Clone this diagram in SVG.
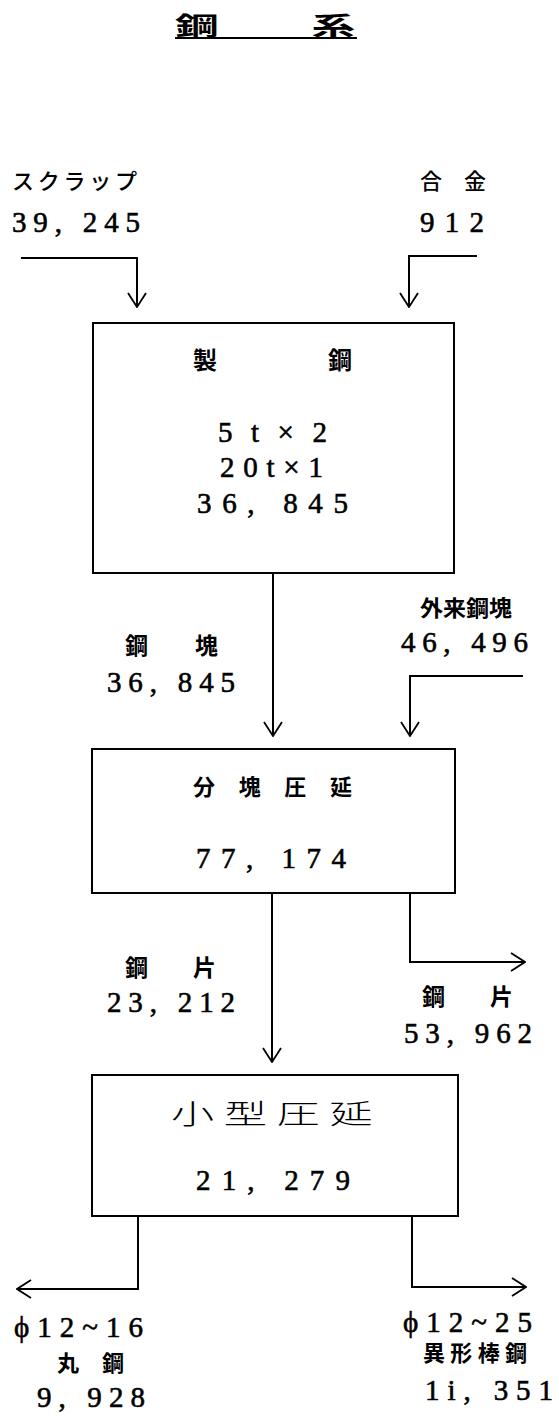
<svg xmlns="http://www.w3.org/2000/svg" width="559" height="1416" viewBox="0 0 559 1416">
<style>
.bg{fill:#fff}
.box{fill:none;stroke:#000;stroke-width:2}
.ln{fill:none;stroke:#000;stroke-width:2}
.num{font-family:"Liberation Serif","Noto Sans CJK JP",serif;font-size:29px;fill:#000;stroke:#000;stroke-width:0.6}
.jp{font-family:"Noto Sans CJK JP",sans-serif;font-weight:700;font-size:22px;fill:#000}
.jpm{font-family:"Noto Sans CJK JP",sans-serif;font-weight:500;font-size:22px;fill:#000}
.jpl{font-family:"Noto Sans CJK JP",sans-serif;font-weight:300;font-size:27px;fill:#000}
</style>
<defs>
<marker id="arr" viewBox="-1 -1 16 20" refX="14" refY="9" markerWidth="16" markerHeight="20" markerUnits="userSpaceOnUse" orient="auto">
<path d="M0,0 L14,9 L0,18" fill="none" stroke="#000" stroke-width="1.8"/>
</marker>
</defs>
<rect class="bg" x="0" y="0" width="559" height="1416"/>

<g id="title">
<text class="jp" transform="translate(175,35) scale(1.75,1)" x="0 78" y="0" style="font-size:25px">鋼系</text>
<line class="ln" x1="175" y1="38" x2="357" y2="38"/>
</g>

<g id="scrap">
<text class="jpm" x="12" y="189" textLength="125" lengthAdjust="spacing">スクラップ</text>
<text class="num" x="12" y="232" textLength="128" lengthAdjust="spacing">39, 245</text>
</g>

<g id="alloy">
<text class="jpm" x="420 464" y="189">合金</text>
<text class="num" x="420" y="232" textLength="64" lengthAdjust="spacing">912</text>
</g>

<g id="steelmaking">
<rect class="box" x="93" y="323" width="361" height="250"/>
<text class="jp" x="193 328" y="369" style="font-size:24px">製鋼</text>
<text class="num" x="218" y="442" textLength="109" lengthAdjust="spacing">5 t × 2</text>
<text class="num" x="220" y="477" textLength="103" lengthAdjust="spacing">20t×1</text>
<text class="num" x="197" y="513" textLength="151" lengthAdjust="spacing">36, 845</text>
</g>

<g id="ingot">
<text class="jp" x="125 195" y="654" style="font-size:23px">鋼塊</text>
<text class="num" x="107" y="692" textLength="128" lengthAdjust="spacing">36, 845</text>
</g>

<g id="purchased-ingot">
<text class="jp" x="420" y="616" textLength="92" lengthAdjust="spacingAndGlyphs">外来鋼塊</text>
<text class="num" x="401" y="652" textLength="127" lengthAdjust="spacing">46, 496</text>
</g>

<g id="blooming">
<rect class="box" x="92" y="749" width="363" height="144"/>
<text class="jp" x="193" y="795" textLength="159" lengthAdjust="spacing">分塊圧延</text>
<text class="num" x="196" y="868" textLength="150" lengthAdjust="spacing">77, 174</text>
</g>

<g id="billet">
<text class="jp" x="125 193" y="976" style="font-size:23px">鋼片</text>
<text class="num" x="107" y="1012" textLength="128" lengthAdjust="spacing">23, 212</text>
</g>

<g id="billet-out">
<text class="jp" x="422 490" y="1005" style="font-size:23px">鋼片</text>
<text class="num" x="404" y="1043" textLength="128" lengthAdjust="spacing">53, 962</text>
</g>

<g id="small-rolling">
<rect class="box" x="92" y="1075" width="366" height="141"/>
<text class="jpl" transform="translate(171,1124) scale(1.6,1)" x="0 33 66 99" y="0">小型圧延</text>
<text class="num" x="196" y="1190" textLength="154" lengthAdjust="spacing">21, 279</text>
</g>

<g id="round-bar">
<text class="num" x="14" y="1337" textLength="129" lengthAdjust="spacing">ϕ12~16</text>
<text class="jp" x="57 102" y="1371">丸鋼</text>
<text class="num" x="37" y="1407" textLength="108" lengthAdjust="spacing">9, 928</text>
</g>

<g id="deformed-bar">
<text class="num" x="403" y="1332" textLength="129" lengthAdjust="spacing">ϕ12~25</text>
<text class="jp" x="423" y="1361" textLength="104" lengthAdjust="spacing">異形棒鋼</text>
<text class="num" x="425" y="1400" textLength="128" lengthAdjust="spacing">1i, 351</text>
</g>

<g id="connectors">
<path class="ln" d="M21,258 H137 V307" marker-end="url(#arr)"/>
<path class="ln" d="M477,256 H409 V307" marker-end="url(#arr)"/>
<path class="ln" d="M273,573 V736" marker-end="url(#arr)"/>
<path class="ln" d="M523,676 H410 V736" marker-end="url(#arr)"/>
<path class="ln" d="M272,893 V1062" marker-end="url(#arr)"/>
<path class="ln" d="M410,893 V962 H525" marker-end="url(#arr)"/>
<path class="ln" d="M138,1216 V1289 H17" marker-end="url(#arr)"/>
<path class="ln" d="M412,1216 V1287 H526" marker-end="url(#arr)"/>
</g>
</svg>
